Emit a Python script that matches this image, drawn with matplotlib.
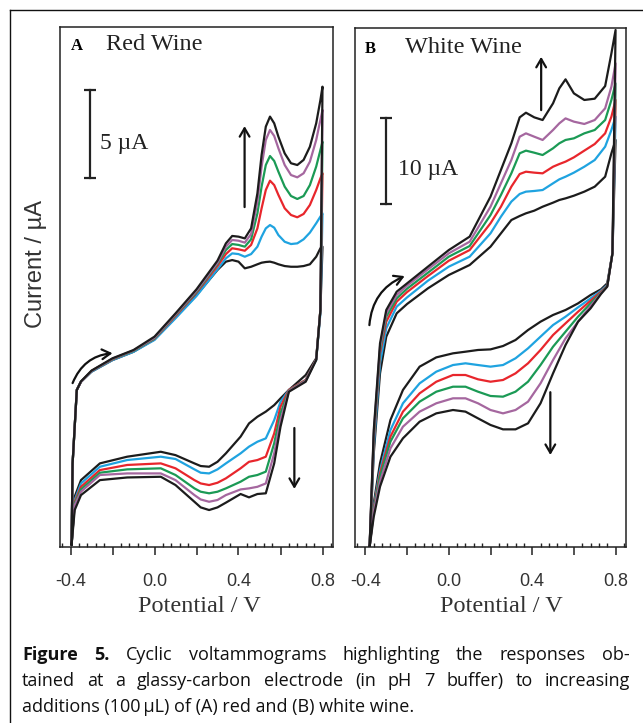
import matplotlib
matplotlib.use("Agg")
import matplotlib.pyplot as plt
from matplotlib.lines import Line2D
from matplotlib.ticker import MultipleLocator, FuncFormatter

plt.rcParams['font.family'] = ['Liberation Sans', 'DejaVu Sans']
SERIF = ['Liberation Serif', 'DejaVu Serif']
CAP_FONT = ['Open Sans', 'DejaVu Sans']

W, H = 643, 723

# colours in order of addition: blank, then increasing wine volume
CURVE_COLORS = ['#1c1c1c', '#1fa3e0', '#e8262c', '#1b9a55', '#a5679f', '#1c1c1c']

# ---- panel A: red wine (currents in uA, arbitrary offset) ----
A_E_FWD = [-0.395, -0.39, -0.37, -0.35, -0.30, -0.20, -0.10, 0.00, 0.10, 0.20, 0.30,
           0.34, 0.37, 0.40, 0.43, 0.46, 0.49, 0.51, 0.53, 0.55, 0.57, 0.59, 0.62,
           0.65, 0.68, 0.71, 0.74, 0.77, 0.79, 0.80]
A_I_FWD = [
    [0, 4.64, 8.81, 9.28, 9.85, 10.51, 10.98, 11.69, 12.94, 14.20, 15.63, 16.10, 16.19,
     16.10, 15.72, 15.81, 15.95, 16.04, 16.08, 16.10, 16.04, 15.95, 15.85, 15.81, 15.81, 15.85, 15.95, 16.38, 16.86, 16.95],
    [0, 4.64, 8.81, 9.28, 9.85, 10.51, 10.98, 11.65, 12.88, 14.15, 15.66, 16.29, 16.57,
     16.53, 16.38, 16.53, 16.95, 17.52, 17.99, 18.18, 18.03, 17.61, 17.23, 17.10, 17.14, 17.37, 17.75, 18.28, 18.66, 18.84],
    [0, 4.64, 8.81, 9.28, 9.89, 10.55, 11.04, 11.72, 13.01, 14.34, 15.85, 16.53, 16.86,
     16.80, 16.72, 17.05, 17.99, 19.13, 20.17, 20.70, 20.45, 19.89, 19.13, 18.75, 18.62, 18.81, 19.32, 20.17, 20.83, 21.12],
    [0, 4.64, 8.81, 9.28, 9.89, 10.57, 11.04, 11.74, 13.07, 14.39, 15.97, 16.76, 17.10,
     17.05, 16.95, 17.37, 18.84, 20.36, 21.59, 22.10, 21.82, 21.21, 20.36, 19.83, 19.66, 19.83, 20.45, 21.50, 22.44, 22.92],
    [0, 4.64, 8.81, 9.28, 9.89, 10.59, 11.06, 11.78, 13.11, 14.45, 16.04, 16.95, 17.33,
     17.29, 17.18, 17.67, 19.51, 21.50, 23.01, 23.58, 23.24, 22.54, 21.59, 21.02, 20.89, 21.12, 21.78, 23.01, 24.15, 24.72],
    [0, 4.64, 8.81, 9.30, 9.91, 10.61, 11.08, 11.84, 13.16, 14.53, 16.16, 17.14, 17.56,
     17.52, 17.42, 17.99, 19.98, 22.16, 23.77, 24.34, 23.96, 23.20, 22.25, 21.69, 21.59, 21.88, 22.63, 23.96, 25.28, 26.04],
]
A_E_REV = [0.80, 0.79, 0.77, 0.72, 0.64, 0.60, 0.57, 0.53, 0.49, 0.45, 0.41, 0.34,
           0.30, 0.26, 0.22, 0.19, 0.10, 0.03, -0.13, -0.26, -0.35, -0.38, -0.395]
A_I_REV = [
    [16.95, 13.35, 10.61, 9.66, 8.81, 8.33, 7.95, 7.58, 7.29, 6.91, 6.16, 5.21, 4.73, 4.45, 4.49, 4.64, 5.11, 5.30, 5.02, 4.64, 3.69, 2.75, 0.0],
    [18.84, 13.16, 10.51, 9.38, 8.81, 8.14, 7.10, 6.06, 5.87, 5.59, 5.21, 4.64, 4.30, 4.07, 4.11, 4.30, 4.89, 5.02, 4.83, 4.45, 3.50, 2.56, 0.0],
    [21.12, 13.35, 10.55, 9.38, 8.81, 7.86, 6.34, 5.02, 4.83, 4.73, 4.36, 3.79, 3.54, 3.41, 3.50, 3.69, 4.36, 4.64, 4.55, 4.26, 3.31, 2.46, 0.0],
    [22.92, 13.35, 10.55, 9.34, 8.77, 7.48, 5.78, 4.17, 3.98, 3.88, 3.60, 3.22, 3.03, 2.94, 3.03, 3.22, 3.98, 4.36, 4.30, 4.11, 3.16, 2.37, 0.0],
    [24.72, 13.35, 10.55, 9.32, 8.75, 7.10, 5.21, 3.50, 3.31, 3.22, 3.16, 2.84, 2.56, 2.46, 2.59, 2.84, 3.69, 4.07, 4.07, 3.98, 3.03, 2.27, 0.0],
    [26.04, 13.35, 10.51, 9.28, 8.71, 6.72, 4.64, 2.94, 2.90, 2.71, 2.90, 2.41, 2.14, 1.99, 2.14, 2.46, 3.41, 3.88, 3.84, 3.69, 2.84, 1.99, 0.0],
]

# ---- panel B: white wine ----
B_E_FWD = [-0.38, -0.36, -0.33, -0.30, -0.25, -0.20, -0.10, 0.00, 0.10, 0.20, 0.25,
           0.30, 0.34, 0.37, 0.41, 0.45, 0.50, 0.53, 0.56, 0.60, 0.65, 0.70, 0.75, 0.78, 0.80]
B_I_FWD = [
    [0, 10.89, 20.19, 24.46, 27.17, 28.26, 30.08, 31.63, 32.79, 34.92, 36.47, 38.02, 38.49, 38.80, 39.11, 39.57, 40.04, 40.35, 40.54, 40.85, 41.32, 41.90, 43.06, 45.78, 47.33],
    [0, 11.67, 21.36, 25.43, 27.95, 29.03, 30.97, 32.60, 33.76, 36.47, 38.41, 40.16, 41.05, 41.32, 41.40, 41.51, 42.29, 42.75, 43.06, 43.53, 44.22, 45.00, 46.55, 48.49, 50.04],
    [0, 12.44, 22.52, 26.20, 28.53, 29.65, 31.51, 33.29, 34.53, 37.64, 39.57, 41.90, 43.37, 43.64, 43.53, 43.45, 44.22, 44.53, 44.81, 45.31, 46.09, 46.86, 48.10, 50.04, 51.98],
    [0, 12.83, 22.91, 26.78, 28.91, 30.04, 31.90, 33.76, 35.00, 38.60, 40.93, 43.45, 45.78, 46.09, 45.85, 45.58, 46.36, 46.94, 47.33, 47.52, 48.10, 48.49, 49.65, 51.98, 53.91],
    [0, 13.22, 23.29, 27.17, 29.30, 30.39, 32.29, 34.15, 35.50, 39.57, 42.29, 45.00, 47.71, 48.10, 47.71, 47.33, 48.49, 49.26, 49.84, 49.46, 49.19, 49.65, 51.01, 53.53, 56.24],
    [0, 13.60, 23.68, 27.56, 29.69, 30.66, 32.60, 34.53, 36.09, 40.74, 43.84, 46.94, 49.96, 50.50, 49.96, 49.65, 51.59, 53.33, 54.38, 52.75, 51.98, 52.13, 53.60, 57.40, 60.12],
]
B_E_REV = [0.80, 0.785, 0.76, 0.73, 0.68, 0.62, 0.56, 0.50, 0.44, 0.38, 0.32, 0.26,
           0.20, 0.14, 0.08, 0.02, -0.06, -0.14, -0.22, -0.28, -0.33, -0.36, -0.38]
B_I_REV = [
    [47.33, 34.15, 30.66, 29.96, 29.30, 28.33, 27.56, 26.98, 26.20, 25.23, 24.07, 23.37, 22.98, 22.91, 22.71, 22.52, 22.05, 20.97, 18.26, 14.77, 9.73, 5.08, 0],
    [50.04, 34.15, 30.47, 29.81, 28.91, 27.87, 26.78, 25.81, 24.46, 23.10, 21.94, 21.16, 20.97, 21.16, 21.36, 21.16, 20.39, 19.03, 16.71, 13.60, 8.95, 4.69, 0],
    [51.98, 34.15, 30.39, 29.69, 28.64, 27.36, 26.01, 24.65, 22.91, 21.36, 20.19, 19.42, 19.22, 19.50, 20.00, 20.00, 19.22, 17.87, 15.74, 12.83, 8.57, 4.50, 0],
    [53.91, 34.15, 30.35, 29.57, 28.33, 26.78, 25.04, 23.29, 21.16, 19.22, 18.06, 17.48, 17.56, 18.06, 18.64, 18.64, 18.06, 16.90, 14.96, 12.25, 8.18, 4.30, 0],
    [56.24, 34.15, 30.31, 29.50, 28.02, 26.20, 24.26, 21.74, 19.03, 16.90, 15.93, 15.54, 15.93, 16.71, 17.29, 17.29, 16.71, 15.74, 13.99, 11.47, 7.60, 4.11, 0],
    [60.12, 34.15, 30.27, 29.42, 27.75, 26.20, 23.49, 20.19, 16.71, 14.38, 13.68, 13.68, 14.19, 14.96, 15.74, 15.93, 15.54, 14.57, 12.64, 10.50, 7.02, 3.53, 0],
]

X_LIMITS = (-0.45, 0.85)

CAPTION_LINE1 = [("Figure", "bold"), ("5.", "bold")] + [
    (w, "normal") for w in "Cyclic voltammograms highlighting the responses ob-".split()]
CAPTION_LINE2 = [(w, "normal") for w in
                 "tained at a glassy-carbon electrode (in pH 7 buffer) to increasing".split()]
CAPTION_LINE3 = "additions (100\u2009\u00b5L) of (A) red and (B) white wine."


def tick_label(v, pos):
    if abs(v) < 1e-9:
        v = 0.0
    k = v / 0.4
    return f"{v:.1f}" if abs(k - round(k)) < 1e-6 else ""


def style_axes(ax):
    for s in ax.spines.values():
        s.set_linewidth(1.1)
        s.set_color('#222222')
    ax.set_yticks([])
    ax.set_xlim(*X_LIMITS)
    ax.xaxis.set_major_locator(MultipleLocator(0.2))
    ax.xaxis.set_minor_locator(MultipleLocator(0.04))
    ax.xaxis.set_major_formatter(FuncFormatter(tick_label))
    ax.tick_params(axis='x', which='major', direction='out', length=6, width=1.1,
                   pad=13, labelsize=13, labelcolor='#333333', color='#222222')
    ax.tick_params(axis='x', which='minor', direction='in', length=3, width=1.0,
                   color='#222222')
    ax.set_xlabel("Potential / V", family=SERIF, fontsize=17.5, color='#333333', labelpad=6)


def draw_cvs(ax, e_fwd, i_fwd, e_rev, i_rev):
    for fwd, rev, col in zip(i_fwd, i_rev, CURVE_COLORS):
        ax.plot(list(e_fwd) + list(e_rev), list(fwd) + list(rev), color=col, lw=1.6,
                solid_joinstyle='round', solid_capstyle='round')


def arrow(ax, start, end, rad=0.0):
    ax.annotate('', xy=end, xytext=start,
                arrowprops=dict(arrowstyle='->,head_length=0.6,head_width=0.35', lw=1.6,
                                color='#111111', shrinkA=0, shrinkB=0,
                                connectionstyle=f'arc3,rad={rad}'))


def scale_bar(ax, x, y0, y1, label, tx, ty):
    ax.plot([x, x], [y0, y1], color='#222222', lw=1.6)
    ax.plot([x, x], [y0, y1], ls='none', marker='_', ms=8, mew=1.6, color='#222222')
    ax.text(tx, ty, label, family=SERIF, fontsize=17, color='#222222',
            ha='left', va='baseline')


fig = plt.figure(figsize=(W / 100, H / 100), dpi=100)

# panel A
axA = fig.add_axes((60 / W, 1 - 547 / H, 273 / W, 520 / H))
style_axes(axA)
axA.set_ylim(-0.11, 29.43)
draw_cvs(axA, A_E_FWD, A_I_FWD, A_E_REV, A_I_REV)
axA.xaxis.set_label_coords(0.509, -0.095)
axA.text(-0.40, 28.1, "A", family=SERIF, fontsize=12, weight='bold', va='baseline')
axA.text(-0.229, 28.1, "Red Wine", family=SERIF, fontsize=17.5, va='baseline', color='#222222')
scale_bar(axA, -0.305, 25.85, 20.85, "5 \u00b5A", -0.26, 22.5)
arrow(axA, (0.429, 19.2), (0.429, 23.8))
arrow(axA, (0.666, 6.65), (0.666, 3.19))
arrow(axA, (-0.39, 9.2), (-0.20, 10.9), rad=-0.3)

# panel B
axB = fig.add_axes((355 / W, 1 - 547 / H, 271 / W, 519 / H))
style_axes(axB)
axB.set_ylim(0.0, 60.35)
draw_cvs(axB, B_E_FWD, B_I_FWD, B_E_REV, B_I_REV)
axB.xaxis.set_label_coords(0.539, -0.095)
axB.text(-0.405, 57.4, "B", family=SERIF, fontsize=12, weight='bold', va='baseline')
axB.text(-0.212, 57.4, "White Wine", family=SERIF, fontsize=17.5, va='baseline', color='#222222')
scale_bar(axB, -0.299, 49.9, 39.9, "10 \u00b5A", -0.246, 43.3)
arrow(axB, (0.443, 50.8), (0.443, 57.0))
arrow(axB, (0.487, 18.0), (0.487, 10.7))
arrow(axB, (-0.381, 25.8), (-0.212, 31.5), rad=-0.3)

fig.text(36 / W, 1 - 264 / H, "Current / \u00b5A", rotation=90, ha='center', va='center',
         fontsize=17, color='#333333')

# outer frame (open on right and bottom, as cropped)
fig.add_artist(Line2D([9.5 / W, 9.5 / W], [0, 1 - 9.5 / H], transform=fig.transFigure,
                      color='#111111', lw=1.0))
fig.add_artist(Line2D([9.5 / W, 1], [1 - 9.5 / H, 1 - 9.5 / H], transform=fig.transFigure,
                      color='#111111', lw=1.0))

# caption with justified lines
CAP_FS = 13
renderer = fig.canvas.get_renderer()


def caption_line(parts, y_px, x0=22, x1=630):
    arts = [fig.text(0, 1 - y_px / H, w, fontsize=CAP_FS, fontweight=wt, family=CAP_FONT,
                     ha='left', va='baseline', color='#111111') for w, wt in parts]
    widths = [t.get_window_extent(renderer).width for t in arts]
    gap = (x1 - x0 - sum(widths)) / (len(arts) - 1)
    x = x0
    for t, w in zip(arts, widths):
        t.set_x(x / W)
        x += w + gap


caption_line(CAPTION_LINE1, 659.5)
caption_line(CAPTION_LINE2, 686)
fig.text(22 / W, 1 - 712 / H, CAPTION_LINE3, fontsize=CAP_FS, family=CAP_FONT,
         ha='left', va='baseline', color='#111111')

fig.savefig("out.png", dpi=100)
